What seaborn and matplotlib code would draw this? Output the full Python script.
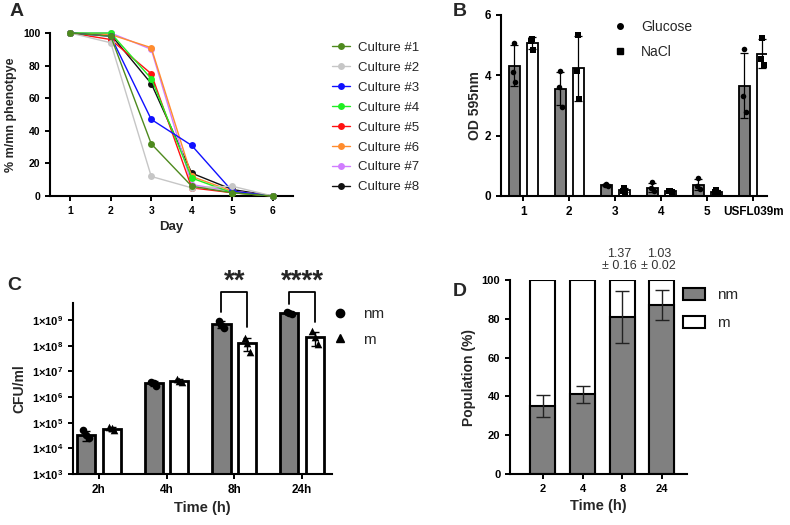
import numpy as np
import pandas as pd
import matplotlib
matplotlib.use('Agg')
import matplotlib.pyplot as plt
from matplotlib.lines import Line2D
from matplotlib.patches import Patch
from matplotlib.ticker import NullLocator, FixedLocator
import seaborn as sns

# ---- panel A : % m/mn phenotype per culture ----
days = [1, 2, 3, 4, 5, 6]
cultures = ['Culture #1', 'Culture #2', 'Culture #3', 'Culture #4',
            'Culture #5', 'Culture #6', 'Culture #7', 'Culture #8']
culture_colors = ['#4e8a1e', '#c6c6c6', '#1010ff', '#22ee22',
                  '#ff1111', '#ff8c2e', '#d17cff', '#111111']
pct_c1 = [100, 98, 32, 6, 2, 0]
pct_c2 = [100, 94, 12, 5, 6, 0]
pct_c3 = [100, 98, 47, 31, 3, 0]
pct_c4 = [100, 100, 72, 11, 2, 0]
pct_c5 = [100, 96, 75, 5, 2, 0]
pct_c6 = [100, 99, 91, 12, 3, 0]
pct_c7 = [100, 100, 90, 7, 3, 0]
pct_c8 = [100, 99, 69, 14, 4, 0]

# ---- panel B : OD 595nm ----
od_groups = ['1', '2', '3', '4', '5', 'USFL039m']
glucose_mean = [4.32, 3.56, 0.36, 0.28, 0.38, 3.66]
glucose_sd = [0.68, 0.55, 0.04, 0.15, 0.19, 1.08]
glucose_pts = [[5.08, 4.10, 3.78], [4.13, 3.60, 2.95], [0.40, 0.36, 0.33],
               [0.45, 0.25, 0.15], [0.60, 0.33, 0.22], [4.88, 3.30, 2.80]]
nacl_mean = [5.07, 4.23, 0.20, 0.15, 0.14, 4.72]
nacl_sd = [0.19, 1.07, 0.06, 0.03, 0.05, 0.47]
nacl_pts = [[5.22, 5.13, 4.85], [5.35, 4.13, 3.22], [0.26, 0.18, 0.14],
            [0.18, 0.15, 0.12], [0.20, 0.12, 0.10], [5.25, 4.55, 4.35]]

# ---- panel C : CFU/ml ----
times_c = ['2h', '4h', '8h', '24h']
cfu_nm_mean = [3.3e4, 3.4e6, 7.0e8, 1.8e9]
cfu_nm_sd = [1.3e4, 7e5, 2.0e8, 1.5e8]
cfu_nm_pts = [[5.0e4, 3.2e4, 2.5e4], [4.0e6, 3.5e6, 2.6e6],
              [9.0e8, 6.5e8, 5.0e8], [2.0e9, 1.9e9, 1.7e9]]
cfu_m_mean = [5.8e4, 4.3e6, 1.3e8, 2.2e8]
cfu_m_sd = [1.0e4, 6e5, 7e7, 1.2e8]
cfu_m_pts = [[7.0e4, 6.0e4, 5.2e4], [5.0e6, 4.3e6, 3.8e6],
             [1.9e8, 1.3e8, 5.6e7], [3.6e8, 2.1e8, 1.2e8]]

# ---- panel D : population ----
times_d = ['2', '4', '8', '24']
nm_pct = [35, 41, 81, 87]
nm_pct_sd = [5.5, 4.2, 13.5, 7.7]
ratio_labels = ['', '', '1.37\n\u00b1 0.16', '1.03\n\u00b1 0.02']

GRAY = '#808080'

sns.set_style('ticks')
plt.rcParams['font.family'] = ['Liberation Sans', 'DejaVu Sans']
plt.rcParams['font.weight'] = 'bold'
plt.rcParams['axes.labelweight'] = 'bold'
plt.rcParams['axes.linewidth'] = 1.5
plt.rcParams['xtick.major.width'] = 1.4
plt.rcParams['ytick.major.width'] = 1.4
plt.rcParams['xtick.major.size'] = 3.5
plt.rcParams['ytick.major.size'] = 3.5
plt.rcParams['xtick.color'] = 'black'
plt.rcParams['ytick.color'] = 'black'
plt.rcParams['axes.edgecolor'] = 'black'
plt.rcParams['mathtext.fontset'] = 'custom'
plt.rcParams['mathtext.rm'] = 'Liberation Sans:bold'
plt.rcParams['mathtext.bf'] = 'Liberation Sans:bold'

W, H = 790, 525
fig = plt.figure(figsize=(W / 100, H / 100), dpi=100)


def add_ax(l, t, r, b):
    return fig.add_axes([l / W, 1 - b / H, (r - l) / W, (b - t) / H])


# ================= A =================
axA = add_ax(50, 33, 293, 196)
series = [pct_c1, pct_c2, pct_c3, pct_c4, pct_c5, pct_c6, pct_c7, pct_c8]
df_a = pd.DataFrame({
    'day': days * len(cultures),
    'pct': [v for s in series for v in s],
    'culture': [c for c in cultures for _ in days],
})
sns.lineplot(data=df_a, x='day', y='pct', hue='culture', hue_order=cultures,
             palette=culture_colors, marker='o', markersize=5, markeredgewidth=0,
             linewidth=1, legend=False, ax=axA)
for i, line in enumerate(axA.lines):
    line.set_clip_on(False)
    line.set_zorder(3 + (len(cultures) - i) * 0.1)
axA.set_xlim(0.5, 6.5)
axA.set_ylim(0, 100)
axA.set_xticks(days)
axA.set_yticks([0, 20, 40, 60, 80, 100])
axA.tick_params(labelsize=7.5)
axA.set_xlabel('Day', fontsize=9.5)
axA.set_ylabel('% m/mn phenotpye', fontsize=9)
sns.despine(ax=axA)
handles_a = [Line2D([], [], color=c, marker='o', markersize=5, markeredgewidth=0, lw=1)
             for c in culture_colors]
fig.legend(handles_a, cultures, loc='upper left', bbox_to_anchor=(320 / W, 1 - 30 / H),
           frameon=False, prop={'size': 9.5, 'weight': 'normal'},
           handlelength=1.4, handletextpad=0.6, labelspacing=0.58)

# ================= B =================
axB = add_ax(501, 15, 767, 196)
df_b = pd.DataFrame({
    'group': od_groups * 2,
    'od': glucose_mean + nacl_mean,
    'medium': ['Glucose'] * len(od_groups) + ['NaCl'] * len(od_groups),
})
sns.barplot(data=df_b, x='group', y='od', hue='medium',
            palette={'Glucose': GRAY, 'NaCl': 'white'}, edgecolor='black',
            linewidth=1.3, width=0.78, gap=0.38, errorbar=None, legend=False, ax=axB)
centers = [p.get_x() + p.get_width() / 2 for p in axB.patches]
xg, xn = centers[:len(od_groups)], centers[len(od_groups):]
axB.errorbar(xg, glucose_mean, yerr=glucose_sd, fmt='none', ecolor='black',
             elinewidth=0.9, capsize=3, capthick=0.9, zorder=3)
axB.errorbar(xn, nacl_mean, yerr=nacl_sd, fmt='none', ecolor='black',
             elinewidth=0.9, capsize=3, capthick=0.9, zorder=3)
jit = [0.0, -0.03, 0.03]
for x, pts in zip(xg, glucose_pts):
    axB.scatter([x + j for j in jit], pts, marker='o', s=16, color='black', zorder=4, lw=0)
for x, pts in zip(xn, nacl_pts):
    axB.scatter([x + j for j in jit], pts, marker='s', s=14, color='black', zorder=4, lw=0)
axB.set_xlim(-0.48, 5.3)
axB.set_ylim(0, 6)
axB.set_yticks([0, 2, 4, 6])
axB.tick_params(labelsize=8.5)
axB.set_xlabel('')
axB.set_ylabel('OD 595nm', fontsize=10, labelpad=2)
sns.despine(ax=axB)
handles_b = [Line2D([], [], color='black', marker='o', ls='', markersize=4),
             Line2D([], [], color='black', marker='s', ls='', markersize=4)]
axB.legend(handles_b, ['Glucose', 'NaCl'], loc='upper left',
           bbox_to_anchor=(0.375, 1.04), frameon=False,
           prop={'size': 10, 'weight': 'normal'}, handlelength=1.0,
           handletextpad=1.0, labelspacing=0.75)

# ================= C =================
axC = add_ax(73, 303, 332, 474)
df_c = pd.DataFrame({
    'time': times_c * 2,
    'cfu': cfu_nm_mean + cfu_m_mean,
    'type': ['nm'] * len(times_c) + ['m'] * len(times_c),
})
sns.barplot(data=df_c, x='time', y='cfu', hue='type',
            palette={'nm': GRAY, 'm': 'white'}, edgecolor='black',
            linewidth=2, width=0.76, gap=0.3, errorbar=None, legend=False, ax=axC)
axC.set_yscale('log')
centers = [p.get_x() + p.get_width() / 2 for p in axC.patches]
xnm, xm = centers[:len(times_c)], centers[len(times_c):]
axC.errorbar(xnm, cfu_nm_mean, yerr=cfu_nm_sd, fmt='none', ecolor='black',
             elinewidth=1, capsize=3, capthick=1, zorder=3)
axC.errorbar(xm, cfu_m_mean, yerr=cfu_m_sd, fmt='none', ecolor='black',
             elinewidth=1, capsize=3, capthick=1, zorder=3)
jit = [-0.04, 0.0, 0.04]
for x, pts in zip(xnm, cfu_nm_pts):
    axC.scatter([x + j for j in jit], pts, marker='o', s=30, color='black', zorder=4, lw=0)
for x, pts in zip(xm, cfu_m_pts):
    axC.scatter([x + j for j in jit], pts, marker='^', s=30, color='black', zorder=4, lw=0)
axC.set_xlim(-0.38, 3.44)
axC.set_ylim(1e3, 10 ** 9.66)
axC.yaxis.set_major_locator(FixedLocator([10.0 ** k for k in range(3, 10)]))
axC.yaxis.set_minor_locator(NullLocator())
axC.set_yticklabels([r'$\mathbf{1{\times}10^{%d}}$' % k for k in range(3, 10)])
axC.tick_params(axis='y', labelsize=8)
axC.tick_params(axis='x', labelsize=8.5)
axC.set_xlabel('Time (h)', fontsize=10.5)
axC.set_ylabel('CFU/ml', fontsize=10)
sns.despine(ax=axC)
# significance brackets
sig = [(2, '**', 10 ** 9.29, 10 ** 8.73), (3, '****', 10 ** 9.64, 10 ** 8.93)]
for i, star, yl, yr in sig:
    ytop = 10 ** 10.09
    axC.plot([xnm[i], xnm[i], xm[i], xm[i]], [yl, ytop, ytop, yr], color='black',
             lw=1.3, clip_on=False)
    axC.text((xnm[i] + xm[i]) / 2, 10 ** 9.98, star, ha='center', va='bottom',
             fontsize=20, fontweight='bold')
handles_c = [Line2D([], [], color='black', marker='o', ls='', markersize=6),
             Line2D([], [], color='black', marker='^', ls='', markersize=6)]
axC.legend(handles_c, ['nm', 'm'], loc='upper left', bbox_to_anchor=(0.95, 1.055),
           frameon=False, prop={'size': 11, 'weight': 'normal'},
           handlelength=1.0, handletextpad=1.0, labelspacing=0.75)

# ================= D =================
axD = add_ax(510, 280, 687, 474)
sns.barplot(x=times_d, y=[100] * len(times_d), color='white', edgecolor='black',
            linewidth=1.5, width=0.63, ax=axD)
sns.barplot(x=times_d, y=nm_pct, color=GRAY, edgecolor='black',
            linewidth=1.5, width=0.63, ax=axD)
axD.errorbar(range(len(times_d)), nm_pct, yerr=nm_pct_sd, fmt='none', ecolor='#222222',
             elinewidth=1, capsize=5, capthick=1, zorder=3)
for i, txt in enumerate(ratio_labels):
    if txt:
        axD.text(i - 0.08, 104, txt, ha='center', va='bottom', fontsize=9,
                 fontweight='normal', color='#333333', linespacing=1.05)
axD.set_xlim(-0.83, 3.63)
axD.set_ylim(0, 100)
axD.set_yticks([0, 20, 40, 60, 80, 100])
axD.tick_params(labelsize=8)
axD.set_xlabel('Time (h)', fontsize=10.5)
axD.set_ylabel('Population (%)', fontsize=10)
sns.despine(ax=axD)
handles_d = [Patch(facecolor=GRAY, edgecolor='black', lw=1.5),
             Patch(facecolor='white', edgecolor='black', lw=1.5)]
axD.legend(handles_d, ['nm', 'm'], loc='upper left', bbox_to_anchor=(0.90, 1.03),
           frameon=False, prop={'size': 11, 'weight': 'normal'},
           handlelength=1.45, handleheight=0.8, handletextpad=0.8, labelspacing=0.9)

# panel letters
for lab, x, y in [('A', 10, 12), ('B', 453, 12), ('C', 7, 286), ('D', 453, 291)]:
    fig.text(x / W, 1 - y / H, lab, fontsize=14, fontweight='bold', va='center', ha='left')

fig.savefig('out.png', dpi=100)
